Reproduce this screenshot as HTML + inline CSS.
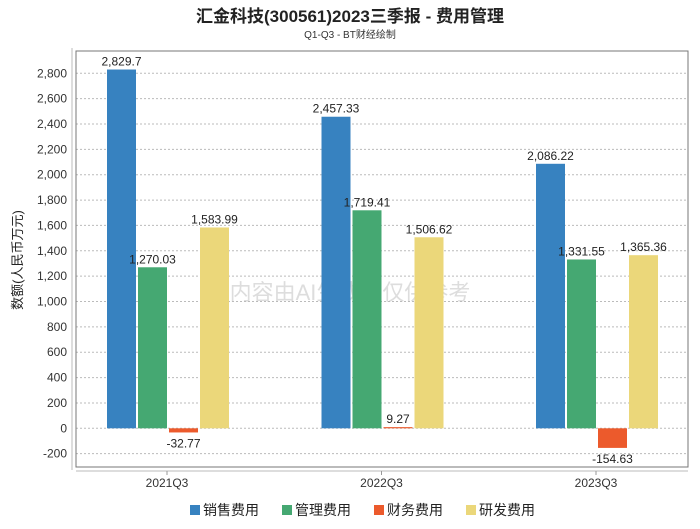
<!DOCTYPE html>
<html><head><meta charset="utf-8"><style>
body{margin:0;background:#fff;width:700px;height:524px;overflow:hidden;font-family:"Liberation Sans","Noto Sans CJK SC",sans-serif}
</style></head><body>
<svg id="c" width="700" height="524" xmlns="http://www.w3.org/2000/svg" font-family="Liberation Sans, Noto Sans CJK SC, sans-serif">
<text x="350" y="22" text-anchor="middle" font-size="17" font-weight="bold" fill="#222">汇金科技(300561)2023三季报 - 费用管理</text>
<text x="350" y="38" text-anchor="middle" font-size="10" fill="#333">Q1-Q3 - BT财经绘制</text>
<text transform="translate(22,260) rotate(-90)" text-anchor="middle" font-size="13" fill="#222">数额(人民币万元)</text>
<text x="350" y="300" text-anchor="middle" font-size="22" fill="#ddd">内容由AI生成，仅供参考</text>
<g id="plot"></g>
</svg>
<script>
const categories=["2021Q3","2022Q3","2023Q3"];
const seriesNames=["销售费用","管理费用","财务费用","研发费用"];
const colors=["#3782c0","#45a872","#ec5a2c","#ebd77a"];
const sales=[2829.7,2457.33,2086.22];
const admin=[1270.03,1719.41,1331.55];
const finance=[-32.77,9.27,-154.63];
const rnd=[1583.99,1506.62,1365.36];
const labels=[["2,829.7","2,457.33","2,086.22"],["1,270.03","1,719.41","1,331.55"],["-32.77","9.27","-154.63"],["1,583.99","1,506.62","1,365.36"]];
const ticks=[-200,0,200,400,600,800,1000,1200,1400,1600,1800,2000,2200,2400,2600,2800];
const series=[sales,admin,finance,rnd];
const NS="http://www.w3.org/2000/svg";
const g=document.getElementById('plot');
const L=76,R=688,T=51,B=467;
const y=v=>428.3-v*0.12679;
const xc=i=>167+i*214.5;
function mk(t,a){const e=document.createElementNS(NS,t);for(const k in a)e.setAttribute(k,a[k]);g.appendChild(e);return e;}
ticks.forEach(t=>{
 const l=mk('line',{x1:L,x2:R,y1:y(t),y2:y(t),stroke:'#bbb','stroke-dasharray':'2,2'});
 
 
 const tx=mk('text',{x:67,y:y(t)+4,'text-anchor':'end','font-size':12,fill:'#333'});
 tx.textContent=t.toLocaleString('en-US');
 
 
});
const box=mk('rect',{x:L,y:T,width:R-L,height:B-T,fill:'none',stroke:'#777'});


const ya=mk('line',{x1:72,x2:72,y1:T-3,y2:B+3,stroke:'#bbb'});


const xa=mk('line',{x1:L,x2:R,y1:471,y2:471,stroke:'#bbb'});


categories.forEach((c,i)=>{
 const tk=mk('line',{x1:xc(i),x2:xc(i),y1:471,y2:475,stroke:'#999'});
 
 
 const t=mk('text',{x:xc(i),y:487,'text-anchor':'middle','font-size':12,fill:'#333'});
 t.textContent=c;
 
 
 series.forEach((s,j)=>{
  const v=s[i],x0=xc(i)-60+j*31;
  const top=Math.min(y(v),y(0)),h=Math.abs(y(v)-y(0));
  const r=mk('rect',{x:x0,y:top,width:29,height:Math.max(h,1),fill:colors[j]});
  
  
  const lt=mk('text',{x:x0+14.5,y:v>=0?y(v)-4:y(v)+15,'text-anchor':'middle','font-size':12,fill:'#222'});
  lt.textContent=labels[j][i];
  
  
 });
});
const lx=[190,282,374,466];
seriesNames.forEach((n,j)=>{
 const r=mk('rect',{x:lx[j],y:505,width:10,height:10,fill:colors[j]});
 
 
 const t=mk('text',{x:lx[j]+13,y:515,'font-size':14,fill:'#222'});
 t.textContent=n;
 
 
});
</script>
</body></html>
